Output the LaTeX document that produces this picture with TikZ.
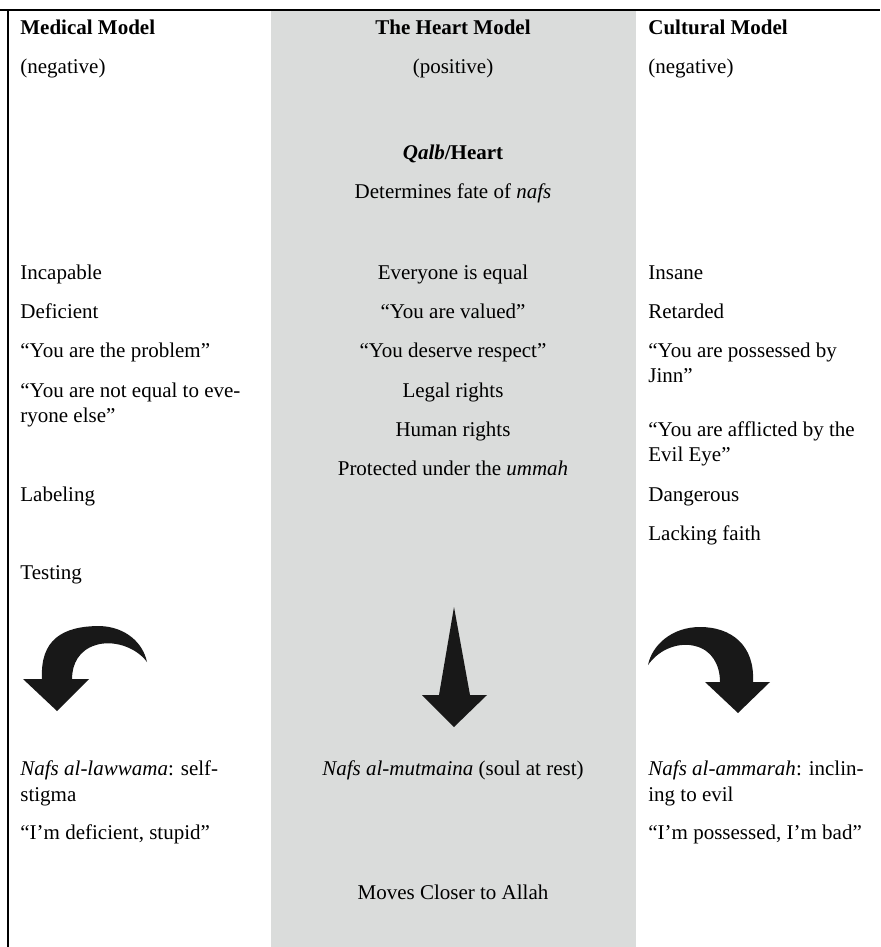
\documentclass[tikz,border=0pt]{standalone}
\usepackage{fontspec}
\setmainfont{Liberation Serif}
\definecolor{heartfill}{HTML}{DADCDB}
\definecolor{arrowfill}{HTML}{181818}
\begin{document}
\begin{tikzpicture}[x=0.5pt,y=-0.5pt,
 every node/.style={font=\fontsize{10.5}{12.5}\selectfont,inner sep=0pt},
 lcol/.style={anchor=base west},
 ccol/.style={anchor=base},
 hdr/.style={font=\fontsize{10.5}{12.5}\selectfont\bfseries},
 rule/.style={draw=black,line width=.75pt},
 blot/.style={fill=arrowfill}]
\useasboundingbox (0,0) rectangle (880,947);
\fill[heartfill] (271,10) rectangle (636,947);
\draw[rule] (0,10) -- (880,10);
\draw[rule] (8,10) -- (8,947);
% medical model column
\node[lcol,hdr] (mhead) at (20,35) {Medical Model};
\node[lcol] (mneg) at (20,74) {(negative)};
\node[lcol] (m1) at (20,279) {Incapable};
\node[lcol] (m2) at (20,318) {Deficient};
\node[lcol] (m3) at (20,357) {“You are the problem”};
\node[lcol] (m4a) at (20,397) {“You are not equal to eve-};
\node[lcol] (m4b) at (20,422) {ryone else”};
\node[lcol] (m5) at (20,501) {Labeling};
\node[lcol] (m6) at (20,579) {Testing};
\node[lcol] (mnafsa) at (20,775) {\textit{Nafs al-lawwama}: self-};
\node[lcol] (mnafsb) at (20,801) {stigma};
\node[lcol] (mself) at (20,839) {“I’m deficient, stupid”};
% heart model column
\node[ccol,hdr] (hhead) at (453,35) {The Heart Model};
\node[ccol] (hpos) at (453,74) {(positive)};
\node[ccol,hdr] (qalb) at (453,159) {\textit{Qalb}/Heart};
\node[ccol] (fate) at (453,198) {Determines fate of \textit{nafs}};
\node[ccol] (h1) at (453,279) {Everyone is equal};
\node[ccol] (h2) at (453,318) {“You are valued”};
\node[ccol] (h3) at (453,357) {“You deserve respect”};
\node[ccol] (h4) at (453,397) {Legal rights};
\node[ccol] (h5) at (453,436) {Human rights};
\node[ccol] (h6) at (453,475) {Protected under the \textit{ummah}};
\node[ccol] (hnafs) at (453,775) {\textit{Nafs al-mutmaina} (soul at rest)};
\node[ccol] (allah) at (453,899) {Moves Closer to Allah};
% cultural model column
\node[lcol,hdr] (chead) at (648,35) {Cultural Model};
\node[lcol] (cneg) at (648,74) {(negative)};
\node[lcol] (c1) at (648,279) {Insane};
\node[lcol] (c2) at (648,318) {Retarded};
\node[lcol] (c3a) at (648,357) {“You are possessed by};
\node[lcol] (c3b) at (648,382) {Jinn”};
\node[lcol] (c4a) at (648,436) {“You are afflicted by the};
\node[lcol] (c4b) at (648,461) {Evil Eye”};
\node[lcol] (c5) at (648,501) {Dangerous};
\node[lcol] (c6) at (648,540) {Lacking faith};
\node[lcol] (cnafsa) at (648,775) {\textit{Nafs al-ammarah}: inclin-};
\node[lcol] (cnafsb) at (648,801) {ing to evil};
\node[lcol] (cself) at (648,839) {“I’m possessed, I’m bad”};
% arrows
\fill[blot] (23,679) -- (42,679) .. controls (40,640) and (62,626) .. (100,626)
 .. controls (126,627) and (143,643) .. (147,662)
 .. controls (135,646) and (112,640) .. (96,645)
 .. controls (79,650) and (72,664) .. (72,679) -- (89,679) -- (57,711) -- cycle;
\fill[blot] (454,607) -- (470,695) -- (487,695) -- (454,727) -- (422,695) -- (439,695) -- cycle;
\fill[blot] (770,682) -- (753,682) .. controls (755,645) and (731,627) .. (700,627)
 .. controls (672,627) and (652,645) .. (648,665)
 .. controls (660,648) and (680,642) .. (695,646)
 .. controls (712,650) and (720,665) .. (720,682) -- (705,682) -- (738,713) -- cycle;
\end{tikzpicture}
\end{document}
